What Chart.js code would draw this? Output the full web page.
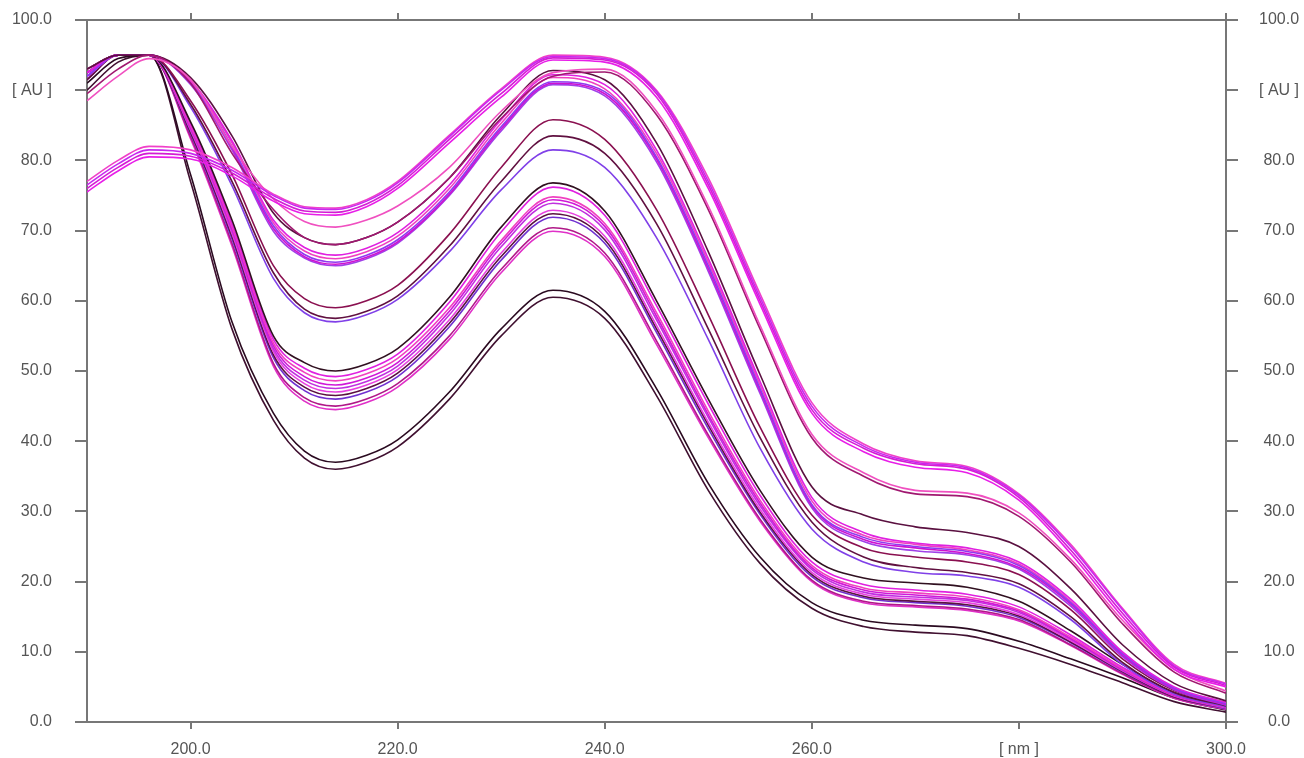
<!DOCTYPE html>
<html>
<head>
<meta charset="utf-8">
<script src="https://cdn.jsdelivr.net/npm/chart.js@4.4.1/dist/chart.umd.min.js"></script>
<style>
  html, body { margin: 0; padding: 0; background: #fff; }
  #spectra { display: block; }
</style>
</head>
<body>
<canvas id="spectra" width="1304" height="758"></canvas>
<script>
// wavelength grid [nm]
const wl = [190,193,196,200,204,208,211,214,217,220,225,230,235,240,245,250,255,260,265,270,275,280,285,290,295,300];

// top group: low first band, red-shifted maxima
const t1 = [75.5,78.5,80.5,80.2,77.8,74.2,72.4,72.2,73.4,76.0,82.5,89.0,94.3,94.0,89.0,76.0,59.5,44.0,38.5,36.3,35.5,31.6,24.0,15.0,7.5,5.0];
const t2 = [76.0,79.0,81.0,80.6,78.2,74.6,72.8,72.6,73.8,76.4,83.0,89.5,94.6,94.3,89.5,76.5,60.0,44.5,39.0,36.8,36.0,32.0,24.5,15.5,7.8,5.2];
const t3 = [76.5,79.5,81.5,81.0,78.6,75.0,73.2,73.0,74.2,76.8,83.4,90.0,94.8,94.5,89.8,77.0,60.5,45.0,39.3,37.0,36.2,32.3,25.0,16.0,8.0,5.4];
const t4 = [77.0,80.0,82.0,81.5,79.0,75.2,73.4,73.2,74.4,77.0,83.6,90.2,95.0,94.7,90.0,77.5,61.0,45.5,39.6,37.2,36.4,32.5,25.3,16.2,8.2,5.5];
const s1 = [88.5,92.0,94.5,91.5,82.0,74.5,71.3,70.5,71.5,73.5,79.0,87.0,92.5,93.0,87.0,73.5,56.5,41.0,35.5,33.0,32.6,29.8,23.2,14.5,7.5,4.4];
const s2 = [89.5,93.0,95.0,91.0,81.0,73.0,69.0,68.0,69.0,71.2,77.5,86.0,92.0,92.6,86.5,73.0,56.0,40.5,35.0,32.5,32.1,29.3,22.8,14.0,7.1,4.1];

// upper group
const u1 = [93.0,95.0,95.0,91.8,83.5,72.5,69.0,68.0,69.0,71.2,77.5,86.5,92.8,91.5,82.5,67.0,49.5,33.5,29.5,27.8,27.0,25.0,19.0,11.0,5.5,3.0];
const u2 = [92.5,95.0,95.0,91.4,82.8,71.5,67.6,66.5,67.5,69.7,76.5,85.8,92.2,90.8,81.5,66.0,48.5,32.0,27.0,25.5,24.8,22.8,17.5,10.0,5.0,2.8];
const u3 = [92.0,95.0,95.0,91.0,82.0,70.7,66.6,65.5,66.5,68.7,75.5,84.8,91.2,89.8,80.5,65.0,47.5,31.0,26.3,25.0,24.3,22.3,17.0,9.7,4.8,2.6];
const u4 = [92.5,95.0,95.0,91.0,81.8,70.3,66.3,65.2,66.2,68.4,75.2,84.5,91.0,89.5,80.2,64.6,47.2,30.8,26.0,24.8,24.0,22.0,16.8,9.5,4.7,2.5];
const u5 = [92.0,95.0,95.0,90.8,81.5,69.9,66.1,65.0,66.0,68.2,75.0,84.2,90.8,89.2,79.8,64.2,46.8,30.5,25.7,24.4,23.8,21.8,16.5,9.3,4.6,2.4];
const u6 = [93.0,95.0,95.0,91.2,82.5,71.1,67.1,66.0,67.0,69.2,76.0,85.3,91.8,90.2,81.0,65.5,48.0,31.5,26.6,25.3,24.5,22.5,17.2,9.8,4.9,2.7];

// middle group
const m1 = [92.5,95.0,95.0,88.5,78.0,65.0,60.3,59.0,60.0,62.2,69.5,79.0,85.8,83.0,73.0,58.0,42.0,29.5,24.8,23.5,22.8,21.0,16.0,9.0,4.5,2.5];
const m2 = [93.0,95.0,95.0,88.0,77.0,64.0,58.8,57.5,58.5,60.7,67.8,77.0,83.5,81.0,71.0,56.0,40.5,28.5,23.5,22.0,21.3,19.7,15.0,8.5,4.2,2.3];
const m3 = [92.0,95.0,95.0,87.6,76.4,63.2,58.3,57.0,58.0,60.2,67.0,75.8,81.5,79.0,69.0,54.5,39.0,27.5,22.8,21.3,20.8,19.2,14.6,8.2,4.0,2.2];

// lower main group
const l1 = [93.0,95.0,95.0,85.5,71.5,55.0,51.2,50.0,51.0,53.2,60.5,70.5,76.8,72.8,60.0,46.0,33.0,23.5,20.5,19.8,19.2,17.2,13.0,8.2,4.2,2.4];
const l2 = [92.5,95.0,95.0,85.2,71.0,54.5,50.4,49.2,50.2,52.4,59.8,69.8,76.2,72.2,59.3,45.3,32.3,22.8,19.6,18.8,18.2,16.4,12.4,7.8,4.0,2.3];
const l3 = [92.0,95.0,95.0,84.9,70.6,54.0,49.8,48.6,49.6,51.8,59.0,68.6,74.8,71.0,58.3,44.3,31.6,22.3,19.1,18.4,17.8,16.0,12.1,7.6,3.9,2.2];
const l4 = [92.5,95.0,95.0,84.7,70.3,53.6,49.2,48.0,49.0,51.2,58.5,68.2,74.4,70.6,57.8,43.8,31.2,22.0,18.8,18.1,17.5,15.8,11.9,7.5,3.8,2.1];
const l5 = [93.0,95.0,95.0,84.5,70.0,53.2,48.7,47.5,48.5,50.7,58.0,67.7,73.9,70.1,57.3,43.4,30.8,21.7,18.5,17.8,17.3,15.6,11.8,7.4,3.8,2.1];
const l6 = [92.0,95.0,95.0,84.3,69.6,52.8,48.2,47.0,48.0,50.2,57.3,66.8,72.9,69.2,56.5,42.7,30.3,21.3,18.2,17.5,17.0,15.3,11.6,7.3,3.7,2.0];
const l7 = [91.5,95.0,95.0,84.0,69.2,52.3,47.7,46.5,47.5,49.7,56.8,66.3,72.4,68.7,56.0,42.3,29.9,21.0,17.9,17.2,16.7,15.1,11.4,7.2,3.6,2.0];
const l8 = [92.0,95.0,95.0,83.8,68.8,51.9,47.2,46.0,47.0,49.2,56.3,65.8,71.9,68.2,55.5,41.8,29.6,20.7,17.7,17.0,16.5,14.9,11.3,7.1,3.6,1.9];
const l9 = [92.5,95.0,95.0,83.4,68.2,51.1,46.2,45.0,46.0,48.2,55.0,64.5,70.4,66.8,54.3,40.9,28.9,20.2,17.2,16.6,16.1,14.6,11.0,6.9,3.5,1.9];
const l10 = [91.5,95.0,95.0,83.1,67.8,50.7,45.7,44.5,45.5,47.7,54.5,64.0,69.9,66.3,53.8,40.5,28.6,20.0,17.0,16.4,15.9,14.4,10.9,6.8,3.4,1.8];

// bottom pair
const b1 = [91.0,94.5,95.0,78.0,57.0,44.0,38.6,37.0,38.0,40.2,47.0,56.0,61.5,58.5,47.5,34.0,23.5,17.0,14.5,13.8,13.3,11.5,9.0,6.3,3.4,1.7];
const b2 = [90.0,94.0,95.0,77.0,56.0,43.0,37.6,36.0,37.0,39.2,46.0,55.0,60.5,57.5,46.5,33.0,22.6,16.2,13.6,12.8,12.3,10.5,8.2,5.6,2.9,1.4];

const curves = [t1, t2, t3, t4, s1, s2, u1, u2, u3, u4, u5, u6, m1, m2, m3,
  l1, l2, l3, l4, l5, l6, l7, l8, l9, l10, b1, b2];
const colors = ['#e81ee8', '#d41cd4', '#c828f0', '#f040c8', '#f050c0', '#a01870',
  '#5a1040', '#e020e0', '#9038f0', '#d010d0', '#a040e8', '#f040c0',
  '#8a1050', '#601040', '#8040e8',
  '#301020', '#e020e0', '#f040c0', '#d018d8', '#c030e0', '#e840e0', '#5a1040', '#7030d0', '#b01888', '#e030c8',
  '#2a0a20', '#401030'];

const xTicks = [200, 220, 240, 260, 280, 300];
const axisColor = '#777';
const labelFont = { family: 'Liberation Sans, Arial, sans-serif', size: 16 };

const datasets = curves.map((c, i) => ({
  data: c.map((v, j) => ({ x: wl[j], y: v })),
  borderColor: colors[i],
  borderWidth: 1.6,
  fill: false,
  pointRadius: 0,
  cubicInterpolationMode: 'monotone'
}));

function xLabel(v) {
  return v == 280 ? '[ nm ]' : v.toFixed(1);
}
function yLabel(v) {
  return v == 90 ? '[ AU ]' : v.toFixed(1);
}
const setXTicks = s => { s.ticks = xTicks.map(v => ({ value: v })); };
// y label padding would otherwise push the plot area down
const fixY = w => s => { s.width = w; s.paddingTop = 0; s.paddingBottom = 0; };

const ctx = document.getElementById('spectra').getContext('2d');
new Chart(ctx, {
  type: 'line',
  data: { datasets: datasets },
  options: {
    responsive: false,
    animation: false,
    layout: { padding: 0 },
    plugins: { legend: { display: false }, tooltip: { enabled: false } },
    scales: {
      x: {
        type: 'linear', position: 'bottom', min: 190, max: 300,
        afterBuildTicks: setXTicks,
        afterFit: s => { s.height = 36; },
        ticks: { callback: xLabel, color: '#555', font: labelFont, padding: 11, maxRotation: 0 },
        grid: { drawOnChartArea: false, drawTicks: true, tickLength: 7, color: axisColor, lineWidth: 2 },
        border: { color: axisColor, width: 2 }
      },
      xTop: {
        type: 'linear', position: 'top', min: 190, max: 300,
        afterBuildTicks: setXTicks,
        afterFit: s => { s.height = 20; },
        ticks: { display: false },
        grid: { drawOnChartArea: false, drawTicks: true, tickLength: 7, color: axisColor, lineWidth: 2 },
        border: { color: axisColor, width: 2 }
      },
      y: {
        position: 'left', min: 0, max: 100,
        afterFit: fixY(87),
        ticks: { stepSize: 10, callback: yLabel, color: '#555', font: labelFont, padding: 23 },
        grid: { drawOnChartArea: false, drawTicks: true, tickLength: 12, color: axisColor, lineWidth: 2 },
        border: { color: axisColor, width: 2 }
      },
      yRight: {
        position: 'right', min: 0, max: 100,
        afterFit: fixY(78),
        ticks: { stepSize: 10, callback: yLabel, color: '#555', font: labelFont, padding: 21, crossAlign: 'center' },
        grid: { drawOnChartArea: false, drawTicks: true, tickLength: 12, color: axisColor, lineWidth: 2 },
        border: { color: axisColor, width: 2 }
      }
    }
  }
});
</script>
</body>
</html>
